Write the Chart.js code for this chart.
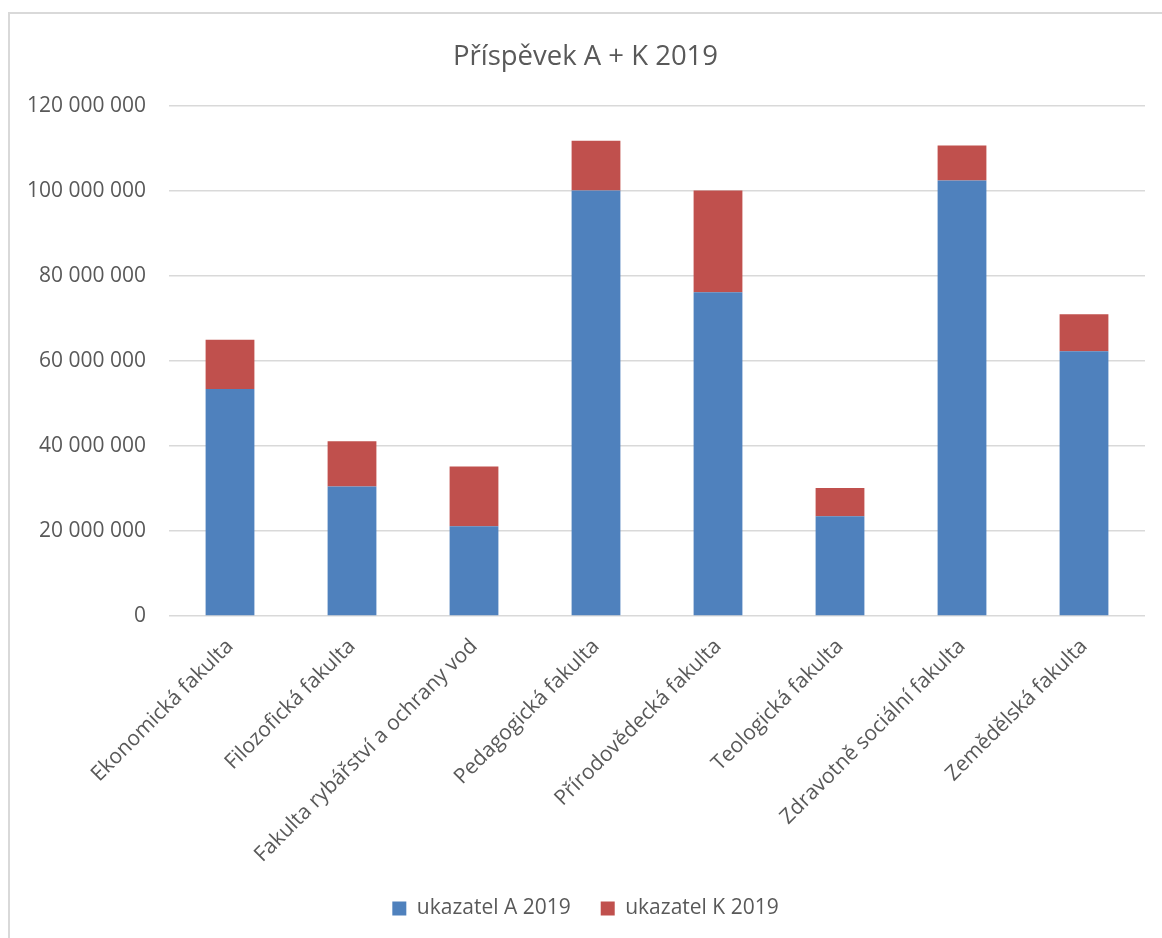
<!DOCTYPE html>
<html>
<head>
<meta charset="utf-8">
<script src="https://cdn.jsdelivr.net/npm/chart.js@4"></script>
<style>
  body { margin: 0; background: #fff; overflow: hidden; }
  .wrap { position: relative; width: 1162px; height: 938px; }
  .frame { position: absolute; left: 8px; top: 12px; width: 1200px; height: 1000px; border-top: 2px solid #d9d9d9; border-left: 2px solid #d9d9d9; pointer-events: none; }
</style>
</head>
<body>
<div class="wrap">
  <canvas id="chart" width="1162" height="938"></canvas>
  <div class="frame"></div>
</div>
<script>
const faculties = [
  'Ekonomická fakulta',
  'Filozofická fakulta',
  'Fakulta rybářství a ochrany vod',
  'Pedagogická fakulta',
  'Přírodovědecká fakulta',
  'Teologická fakulta',
  'Zdravotně sociální fakulta',
  'Zemědělská fakulta'
];
const ukazatelA = [53400000, 30500000, 21100000, 100100000, 76200000, 23500000, 102500000, 62300000];
const ukazatelK = [11600000, 10600000, 14100000, 11700000, 23900000, 6600000, 8200000, 8700000];
const yTicks = [0, 20000000, 40000000, 60000000, 80000000, 100000000, 120000000];

const textColor = '#595959';
const fontFamily = '"Open Sans", "Noto Sans", sans-serif';

// 120000000 -> "120 000 000"
const fmt = v => String(v).replace(/\B(?=(\d{3})+(?!\d))/g, ' ');

new Chart(document.getElementById('chart'), {
  type: 'bar',
  data: {
    labels: faculties,
    datasets: [
      { label: 'ukazatel A 2019', data: ukazatelA, backgroundColor: '#4f81bd', borderWidth: 0 },
      { label: 'ukazatel K 2019', data: ukazatelK, backgroundColor: '#c0504d', borderWidth: 0 }
    ]
  },
  options: {
    responsive: false,
    animation: false,
    layout: { padding: { left: 26, right: 17, top: 0, bottom: 9 } },
    datasets: { bar: { categoryPercentage: 1, barPercentage: 0.4 } },
    plugins: {
      title: {
        display: true,
        text: 'Příspěvek A + K 2019',
        color: textColor,
        font: { family: fontFamily, size: 27.5, weight: 'normal' },
        padding: { top: 41, bottom: 32 }
      },
      legend: {
        position: 'bottom',
        labels: {
          color: textColor,
          font: { family: fontFamily, size: 21 },
          boxWidth: 14,
          boxHeight: 14,
          padding: 30
        }
      },
      tooltip: { enabled: false }
    },
    scales: {
      x: {
        stacked: true,
        grid: { display: false },
        border: { display: false },
        ticks: {
          color: textColor,
          font: { family: fontFamily, size: 21 },
          minRotation: 45,
          maxRotation: 45,
          autoSkip: false,
          labelOffset: 0,
          padding: 10
        },
        afterFit: s => { s.height = 252; }
      },
      y: {
        stacked: true,
        min: 0,
        max: 120000000,
        afterBuildTicks: s => { s.ticks = yTicks.map(v => ({ value: v })); },
        grid: { color: '#d9d9d9', lineWidth: 1.5, drawTicks: false },
        border: { display: false },
        ticks: {
          color: textColor,
          font: { family: fontFamily, size: 21 },
          padding: 23,
          callback: v => fmt(v)
        },
        afterFit: s => { s.width = 143; }
      }
    }
  }
});
</script>
</body>
</html>
